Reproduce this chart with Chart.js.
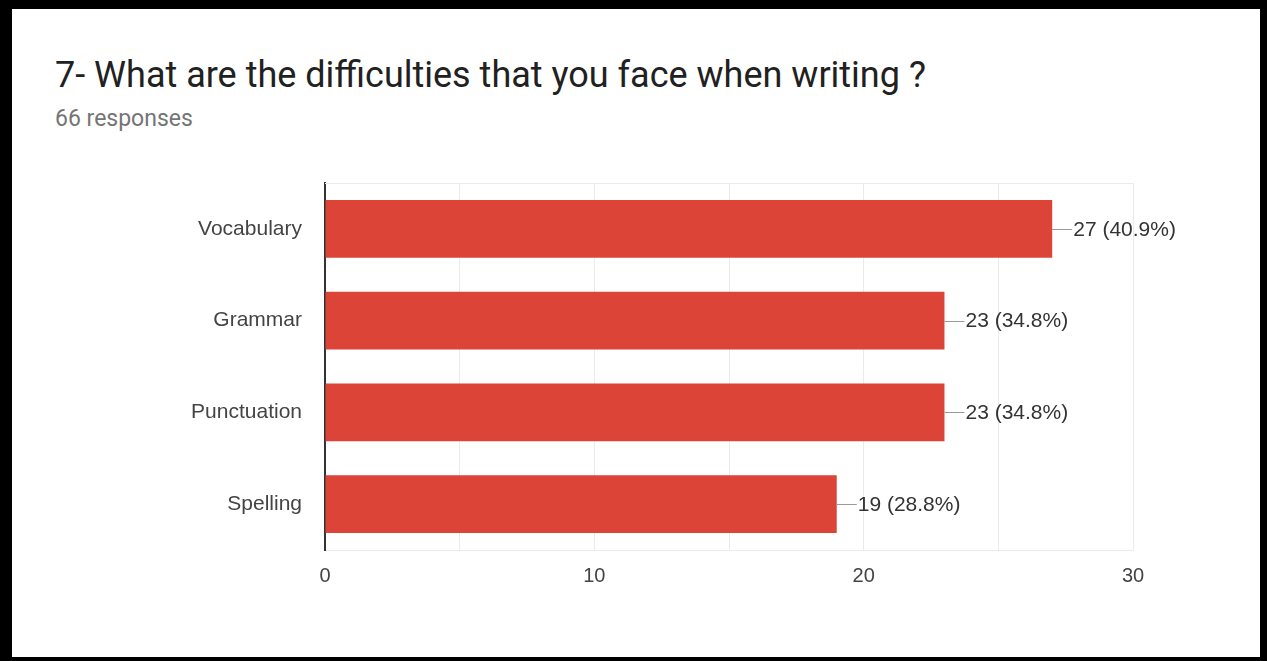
<!DOCTYPE html>
<html>
<head>
<meta charset="utf-8">
<script src="https://cdn.jsdelivr.net/npm/chart.js@4/dist/chart.umd.min.js"></script>
<style>
  html, body { margin: 0; padding: 0; background: #000; }
  #frame { position: absolute; left: 12px; top: 9px; width: 1248px; height: 648px; background: #fff; }
  #title { position: absolute; left: 55px; top: 55px; font-family: Roboto, sans-serif; font-size: 36px; color: #212121; white-space: nowrap; line-height: 40px; }
  #sub { position: absolute; left: 55px; top: 105px; font-family: Roboto, sans-serif; font-size: 23px; color: #757575; line-height: 28px; }
  #wrap { position: absolute; left: 0; top: 0; width: 1267px; height: 661px; }
</style>
</head>
<body>
<div id="frame"></div>
<div id="title">7- What are the difficulties that you face when writing ?</div>
<div id="sub">66 responses</div>
<div id="wrap"><canvas id="c" width="1267" height="661"></canvas></div>
<script>
const categories = ["Vocabulary", "Grammar", "Punctuation", "Spelling"];
const counts = [27, 23, 23, 19];
const percentLabels = ["40.9%", "34.8%", "34.8%", "28.8%"];
const xTickLabels = ["0", "10", "20", "30"];

const frameTop = {
  id: 'frameTop',
  beforeDatasetsDraw(chart) {
    const a = chart.chartArea, ctx = chart.ctx;
    ctx.save();
    ctx.strokeStyle = '#ebebeb';
    ctx.lineWidth = 1;
    ctx.beginPath();
    ctx.moveTo(a.left, a.top + 0.5);
    ctx.lineTo(a.right, a.top + 0.5);
    ctx.stroke();
    ctx.restore();
  }
};

const valueLabels = {
  id: 'valueLabels',
  afterDatasetsDraw(chart) {
    const ctx = chart.ctx;
    const meta = chart.getDatasetMeta(0);
    ctx.save();
    meta.data.forEach((bar, i) => {
      const x = bar.x, y = bar.y;
      ctx.strokeStyle = '#999';
      ctx.lineWidth = 1;
      ctx.beginPath();
      ctx.moveTo(x, Math.round(y) + 0.5);
      ctx.lineTo(x + 20, Math.round(y) + 0.5);
      ctx.stroke();
      ctx.fillStyle = '#333';
      ctx.font = '21px "Liberation Sans", Arial, sans-serif';
      ctx.textAlign = 'left';
      ctx.textBaseline = 'middle';
      ctx.fillText(counts[i] + ' (' + percentLabels[i] + ')', x + 21, y + 1);
    });
    ctx.restore();
  }
};

new Chart(document.getElementById('c'), {
  type: 'bar',
  data: {
    labels: categories,
    datasets: [{
      data: counts,
      backgroundColor: '#db4437',
      borderWidth: 0,
      categoryPercentage: 1.0,
      barPercentage: 0.63
    }]
  },
  plugins: [frameTop, valueLabels],
  options: {
    indexAxis: 'y',
    responsive: false,
    animation: false,
    devicePixelRatio: 1,
    layout: { padding: { left: 0, right: 134, top: 183, bottom: 0 } },
    plugins: { legend: { display: false }, tooltip: { enabled: false } },
    scales: {
      x: {
        min: 0, max: 30,
        ticks: {
          stepSize: 5,
          padding: 14,
          color: '#444',
          font: { family: '"Liberation Sans", Arial, sans-serif', size: 20 },
          callback: (v) => (v % 10 === 0 ? xTickLabels[v / 10] : '')
        },
        grid: { color: '#ebebeb', drawTicks: false, lineWidth: 1 },
        border: { color: '#ebebeb', width: 1 },
        afterFit: (s) => { s.height = 111; }
      },
      y: {
        ticks: {
          padding: 23,
          color: '#444',
          font: { family: '"Liberation Sans", Arial, sans-serif', size: 21 }
        },
        grid: { display: false, drawTicks: false },
        border: { color: '#333', width: 2 },
        afterFit: (s) => { s.width = 325; }
      }
    }
  }
});
</script>
</body>
</html>
